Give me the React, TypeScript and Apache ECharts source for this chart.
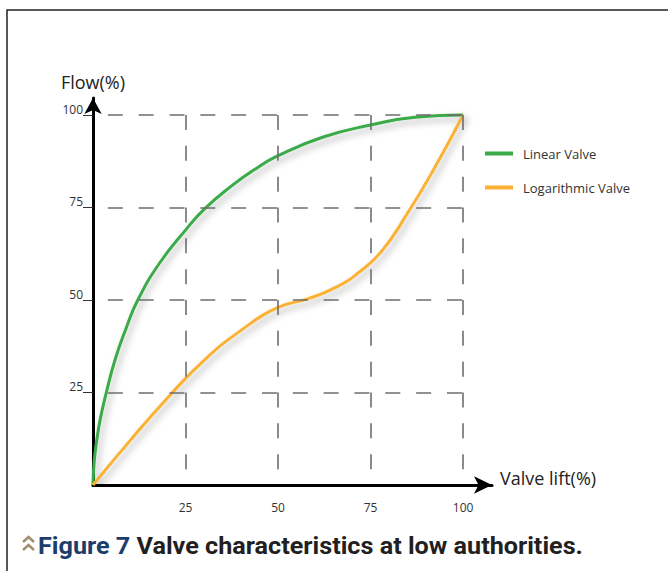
import React, { useEffect, useRef } from "react";
import * as echarts from "echarts";

// ---- data ----
const linearLift = [0, 0.3, 1, 2, 3.6, 6, 9, 12.1, 18, 25, 30, 37, 44, 50, 62, 75, 87, 100];
const linearFlow = [0, 6, 12, 18, 25, 34, 42.5, 50, 60, 68.9, 74.5, 80.5, 85.5, 89, 94, 97.3, 99.4, 100];

const logLift = [0, 10, 20, 30, 40, 50, 58, 66, 72, 78, 85, 92, 100];
const logFlow = [0, 12, 23.4, 33.7, 41.8, 48, 50.3, 53.6, 57.6, 63.2, 73.5, 85.2, 100];

const gridValues = [25, 50, 75, 100];
const xTickLabels = ["25", "50", "75", "100"];
const yTickLabels = ["25", "50", "75", "100"];
const seriesNames = ["Linear Valve", "Logarithmic Valve"];
const xAxisName = "Valve lift(%)";
const yAxisName = "Flow(%)";
const captionLead = "Figure 7";
const captionText = "Valve characteristics at low authorities.";

export default function App() {
  const ref = useRef<HTMLDivElement>(null);

  useEffect(() => {
    const chart = echarts.init(ref.current!, null, { renderer: "svg" });
    const font = "'Open Sans', sans-serif";
    const green = "#3aab48";
    const orange = "#fbb133";
    const shadow = {
      shadowColor: "rgba(0,0,0,0.3)",
      shadowBlur: 7,
      shadowOffsetX: 3,
      shadowOffsetY: 4,
    };
    const period = 30.83;
    const dashLen = 15;

    const hLines = gridValues.map((v) => [{ coord: [0, v] }, { coord: [100, v] }]);
    const vLines = gridValues.map((v) => [{ coord: [v, 100] }, { coord: [v, 0] }]);

    const labelFormatter = (labels: string[]) => (v: number) => {
      const i = gridValues.indexOf(v);
      return i >= 0 ? labels[i] : "";
    };

    const option: any = {
      animation: false,
      backgroundColor: "#ffffff",
      grid: {
        left: 93,
        top: 98,
        width: 399,
        height: 387,
        containLabel: false,
        outerBoundsMode: "none",
      },
      legend: {
        data: seriesNames,
        orient: "vertical",
        left: 480,
        top: 142,
        itemWidth: 28,
        itemHeight: 4,
        itemGap: 21,
        icon: "rect",
        selectedMode: false,
        textStyle: { fontSize: 13, color: "#333", fontFamily: font, padding: [0, 0, 7, 5] },
      },
      xAxis: {
        type: "value",
        min: 0,
        max: 107.8,
        interval: 25,
        splitLine: { show: false },
        axisTick: { show: false },
        axisLine: {
          show: true,
          onZero: false,
          symbol: ["none", "arrow"],
          symbolSize: [13, 18],
          lineStyle: { color: "#000", width: 3 },
        },
        axisLabel: {
          customValues: gridValues,
          margin: 16,
          fontSize: 12,
          color: "#333",
          fontFamily: font,
          formatter: labelFormatter(xTickLabels),
        },
        name: xAxisName,
        nameLocation: "end",
        nameGap: 8,
        nameTextStyle: {
          fontSize: 18,
          color: "#222",
          fontFamily: font,
          verticalAlign: "bottom",
          lineHeight: 14,
        },
      },
      yAxis: {
        type: "value",
        min: 0,
        max: 104.6,
        interval: 25,
        splitLine: { show: false },
        axisTick: {
          show: true,
          customValues: gridValues,
          length: 10,
          lineStyle: { color: "#333", width: 1 },
        },
        axisLine: {
          show: true,
          onZero: false,
          symbol: ["none", "arrow"],
          symbolSize: [13, 16],
          lineStyle: { color: "#000", width: 3 },
        },
        axisLabel: {
          customValues: gridValues,
          margin: 10,
          fontSize: 12,
          lineHeight: 12,
          verticalAlign: "bottom",
          color: "#333",
          fontFamily: font,
          formatter: labelFormatter(yTickLabels),
        },
        name: yAxisName,
        nameLocation: "end",
        nameGap: 7,
        nameTextStyle: { fontSize: 18, color: "#222", fontFamily: font },
      },
      series: [
        {
          type: "line",
          name: "gridH",
          data: [],
          silent: true,
          z: 1,
          markLine: {
            silent: true,
            symbol: ["none", "none"],
            label: { show: false },
            emphasis: { disabled: true },
            lineStyle: {
              color: "#6e6e6e",
              width: 1.6,
              type: [dashLen, period - dashLen],
              dashOffset: period - dashLen,
            },
            data: hLines,
          },
        },
        {
          type: "line",
          name: "gridV",
          data: [],
          silent: true,
          z: 1,
          markLine: {
            silent: true,
            symbol: ["none", "none"],
            label: { show: false },
            emphasis: { disabled: true },
            lineStyle: {
              color: "#6e6e6e",
              width: 1.6,
              type: [dashLen, period - dashLen],
              dashOffset: 0,
            },
            data: vLines,
          },
        },
        {
          type: "line",
          name: seriesNames[0],
          data: linearLift.map((x, i) => [x, linearFlow[i]]),
          showSymbol: false,
          symbol: "none",
          smooth: true,
          z: 3,
          itemStyle: { color: green },
          lineStyle: { color: green, width: 3, ...shadow },
        },
        {
          type: "line",
          name: seriesNames[1],
          data: logLift.map((x, i) => [x, logFlow[i]]),
          showSymbol: false,
          symbol: "none",
          smooth: true,
          z: 3,
          itemStyle: { color: orange },
          lineStyle: { color: orange, width: 3, ...shadow },
        },
      ],
      graphic: [
        {
          type: "rect",
          silent: true,
          shape: { x: 7, y: 10, width: 700, height: 620 },
          style: { fill: "none", stroke: "#222", lineWidth: 1.5 },
        },
        {
          type: "polyline",
          silent: true,
          shape: { points: [[23, 542], [28.5, 537], [34, 542]] },
          style: { fill: "none", stroke: "#a08f6c", lineWidth: 2.5 },
        },
        {
          type: "polyline",
          silent: true,
          shape: { points: [[23, 550], [28.5, 545], [34, 550]] },
          style: { fill: "none", stroke: "#a08f6c", lineWidth: 2.5 },
        },
        {
          type: "text",
          silent: true,
          x: 38,
          y: 546,
          scaleX: 1.05,
          style: {
            text: `{b|${captionLead}} {d|${captionText}}`,
            x: 0,
            y: 0,
            align: "left",
            verticalAlign: "middle",
            font: "bold 24px Roboto, sans-serif",
            rich: {
              b: { fill: "#1c3d6c", fontSize: 24, fontWeight: "bold", fontFamily: "Roboto" },
              d: { fill: "#231f20", fontSize: 24, fontWeight: "bold", fontFamily: "Roboto" },
            },
          },
        },
      ],
    };

    chart.setOption(option);
    return () => chart.dispose();
  }, []);

  return (
    <div
      ref={ref}
      style={{ position: "absolute", left: 0, top: 0, width: 668, height: 571 }}
    />
  );
}
